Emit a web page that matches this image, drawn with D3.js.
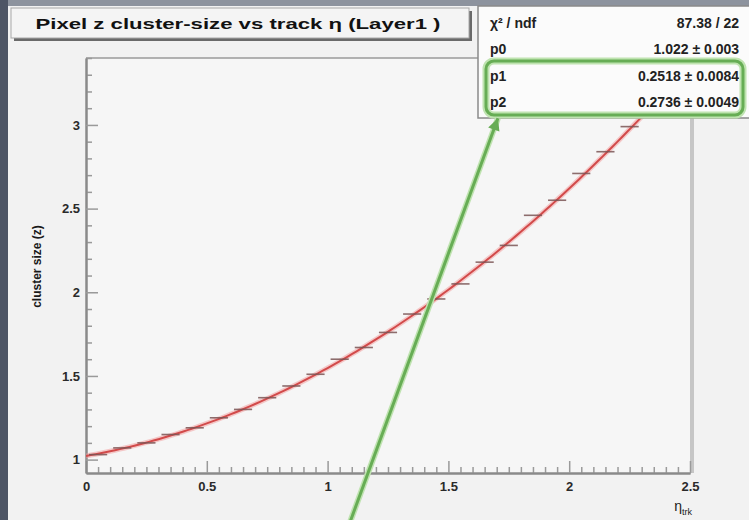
<!DOCTYPE html>
<html>
<head>
<meta charset="utf-8">
<script src="https://cdn.jsdelivr.net/npm/d3@7"></script>
<style>
  body { margin: 0; background: #f2f2f2; }
  svg { display: block; font-family: "Liberation Sans", Arial, sans-serif; }
</style>
</head>
<body>
<svg id="chart" width="749" height="520"></svg>
<script>
// profile bins (track eta) and mean cluster size
const binCenters = [0.05, 0.15, 0.25, 0.35, 0.45, 0.55, 0.65, 0.75, 0.85, 0.95,
                    1.05, 1.15, 1.25, 1.35, 1.45, 1.55, 1.65, 1.75, 1.85, 1.95,
                    2.05, 2.15, 2.25, 2.35, 2.45];
const clusterSize = [1.03, 1.07, 1.10, 1.15, 1.19, 1.25, 1.30, 1.37, 1.44, 1.51,
                     1.60, 1.67, 1.76, 1.87, 1.96, 2.05, 2.18, 2.28, 2.46, 2.55,
                     2.71, 2.84, 2.99, 3.13, 3.28];
const binHalfWidth = 0.05;

// pol2 fit parameters from the stats box
const fitPars = [1.022, 0.2518, 0.2736];
const statsLabels = ["\u03C7\u00B2 / ndf", "p0", "p1", "p2"];
const statsValues = ["87.38 / 22", "1.022 \u00B1 0.003", "0.2518 \u00B1 0.0084", "0.2736 \u00B1 0.0049"];

const xTicks = [0, 0.5, 1, 1.5, 2, 2.5];
const yTicks = [1, 1.5, 2, 2.5, 3];

// green annotation arrow, in data coordinates
const arrowFrom = [1.093, 0.627];
const arrowTo = [1.705, 3.04];

const svg = d3.select("#chart");
const W = 749, H = 520;
const frame = { left: 86, right: 690, top: 58, bottom: 473 };

const x = d3.scaleLinear().domain([0, 2.5]).range([frame.left, frame.right]);
const y = d3.scaleLinear().domain([0.92, 3.40]).range([frame.bottom, frame.top]);

// canvas background + window edges
svg.append("rect").attr("width", W).attr("height", H).attr("fill", "#f2f2f2");
svg.append("rect").attr("x", 0).attr("y", 0).attr("width", W).attr("height", 6).attr("fill", "#8d939e");
svg.append("rect").attr("x", 0).attr("y", 0).attr("width", 8).attr("height", H).attr("fill", "#4e5565");

// frame fill
svg.append("rect")
    .attr("x", frame.left).attr("y", frame.top)
    .attr("width", frame.right - frame.left + 2).attr("height", frame.bottom - frame.top)
    .attr("fill", "#f6f6f6");

// frame top and right edges
svg.append("line")
    .attr("x1", frame.left).attr("x2", frame.right + 2)
    .attr("y1", frame.top).attr("y2", frame.top)
    .attr("stroke", "#9a9a9a").attr("stroke-width", 1.5);
svg.append("line")
    .attr("x1", frame.right + 2).attr("x2", frame.right + 2)
    .attr("y1", frame.top).attr("y2", frame.bottom)
    .attr("stroke", "#c6c6c6").attr("stroke-width", 4);

// axes: major + minor ticks pointing into the frame
const styleAxis = g => {
    g.select(".domain").attr("stroke", "#8a8a8a").attr("stroke-width", 2);
    g.selectAll(".tick line").attr("stroke", "#9a9a9a").attr("stroke-width", 1.5);
    g.selectAll("text").attr("fill", "#2a2a2a").attr("font-size", 13).attr("font-weight", "bold")
        .attr("font-family", "Liberation Sans, Arial, sans-serif");
};

const xMinor = d3.range(0, 2.5001, 0.05).filter(v => Math.abs(v * 2 - Math.round(v * 2)) > 1e-6);
const yMinor = d3.range(1, 3.4001, 0.1).filter(v => Math.abs(v * 2 - Math.round(v * 2)) > 1e-6);

svg.append("g")
    .attr("transform", `translate(0,${frame.bottom})`)
    .call(d3.axisBottom(x).tickValues(xMinor).tickSizeInner(-6).tickSizeOuter(0).tickFormat(""))
    .call(styleAxis);
svg.append("g")
    .attr("transform", `translate(0,${frame.bottom})`)
    .call(d3.axisBottom(x).tickValues(xTicks).tickSizeInner(-12).tickSizeOuter(0).tickPadding(9).tickFormat(d => String(d)))
    .call(styleAxis);

svg.append("g")
    .attr("transform", `translate(${frame.left},0)`)
    .call(d3.axisLeft(y).tickValues(yMinor).tickSizeInner(-6).tickSizeOuter(0).tickFormat(""))
    .call(styleAxis);
svg.append("g")
    .attr("transform", `translate(${frame.left},0)`)
    .call(d3.axisLeft(y).tickValues(yTicks).tickSizeInner(-12).tickSizeOuter(0).tickPadding(6).tickFormat(d => String(d)))
    .call(styleAxis);

// axis titles
svg.append("text")
    .attr("transform", `translate(41,${(frame.top + frame.bottom) / 2 + 1}) rotate(-90)`)
    .attr("text-anchor", "middle")
    .attr("font-size", 12).attr("font-weight", "bold").attr("fill", "#1a1a1a")
    .text("cluster size (z)");

const xTitle = svg.append("text")
    .attr("x", frame.right + 2).attr("y", 511)
    .attr("text-anchor", "end")
    .attr("font-size", 14).attr("fill", "#1a1a1a");
xTitle.append("tspan").text("\u03B7");
xTitle.append("tspan").attr("font-size", 9).attr("dy", 4).text("trk");

// plot contents clipped to the frame
svg.append("clipPath").attr("id", "frameClip")
    .append("rect")
    .attr("x", frame.left).attr("y", frame.top)
    .attr("width", frame.right - frame.left).attr("height", frame.bottom - frame.top);
const plot = svg.append("g").attr("clip-path", "url(#frameClip)");

// fit function evaluated from its parameters
const fitFn = v => fitPars[0] + fitPars[1] * v + fitPars[2] * v * v;
const fitX = d3.range(0, 2.5001, 0.02);
plot.append("path")
    .datum(fitX)
    .attr("fill", "none")
    .attr("stroke", "#f2a0a0").attr("stroke-width", 5).attr("stroke-opacity", 0.55)
    .attr("d", d3.line().x(d => x(d)).y(d => y(fitFn(d))));
plot.append("path")
    .datum(fitX)
    .attr("fill", "none")
    .attr("stroke", "#d24a4a").attr("stroke-width", 2)
    .attr("d", d3.line().x(d => x(d)).y(d => y(fitFn(d))));

// profile points: horizontal bin-width error bars
const points = binCenters.map((c, i) => ({ c, v: clusterSize[i] }));
plot.selectAll("line.pt")
    .data(points)
    .enter().append("line")
    .attr("class", "pt")
    .attr("x1", d => x(d.c - binHalfWidth) + 3)
    .attr("x2", d => x(d.c + binHalfWidth) - 3)
    .attr("y1", d => y(d.v)).attr("y2", d => y(d.v))
    .attr("stroke", "#7a5555").attr("stroke-width", 1.6).attr("stroke-opacity", 0.85);

// title box
svg.append("rect")
    .attr("x", 14).attr("y", 11).attr("width", 458).attr("height", 30)
    .attr("fill", "#6a6a6a");
svg.append("rect")
    .attr("x", 11).attr("y", 8).attr("width", 458).attr("height", 30)
    .attr("fill", "#f4f4f4").attr("stroke", "#a8a8a8").attr("stroke-width", 1);
svg.append("text")
    .attr("x", 238).attr("y", 29)
    .attr("text-anchor", "middle")
    .attr("font-size", 15).attr("font-weight", "bold").attr("fill", "#111")
    .attr("textLength", 405).attr("lengthAdjust", "spacingAndGlyphs")
    .text("Pixel z cluster-size vs track \u03B7 (Layer1 )");

// stats box
svg.append("rect")
    .attr("x", 478).attr("y", 6).attr("width", 272).attr("height", 112)
    .attr("fill", "#fbfbfb").attr("stroke", "#8a8a8a").attr("stroke-width", 1.5);
const rowY = d3.scalePoint().domain(d3.range(statsLabels.length)).range([28, 107]);
svg.append("g").selectAll("text")
    .data(statsLabels)
    .enter().append("text")
    .attr("x", 490).attr("y", (d, i) => rowY(i))
    .attr("font-size", 14).attr("font-weight", "bold").attr("fill", "#222")
    .text(d => d);
svg.append("g").selectAll("text")
    .data(statsValues)
    .enter().append("text")
    .attr("x", 739).attr("y", (d, i) => rowY(i))
    .attr("text-anchor", "end")
    .attr("font-size", 14).attr("font-weight", "bold").attr("fill", "#222")
    .text(d => d);

// green highlight around p1/p2 and the annotation arrow
const green = "#67ad55", greenHalo = "#bfe3b0";
svg.append("rect")
    .attr("x", 486).attr("y", 61).attr("width", 257).attr("height", 54).attr("rx", 8)
    .attr("fill", "none").attr("stroke", greenHalo).attr("stroke-width", 7);
svg.append("rect")
    .attr("x", 486).attr("y", 61).attr("width", 257).attr("height", 54).attr("rx", 8)
    .attr("fill", "none").attr("stroke", green).attr("stroke-width", 3);

const ax1 = x(arrowFrom[0]), ay1 = y(arrowFrom[1]);
const ax2 = x(arrowTo[0]), ay2 = y(arrowTo[1]);
svg.append("line")
    .attr("x1", ax1).attr("y1", ay1).attr("x2", ax2).attr("y2", ay2)
    .attr("stroke", greenHalo).attr("stroke-width", 6);
svg.append("line")
    .attr("x1", ax1).attr("y1", ay1).attr("x2", ax2).attr("y2", ay2)
    .attr("stroke", green).attr("stroke-width", 3);
const ang = Math.atan2(ay2 - ay1, ax2 - ax1);
const headLen = 12, headW = 6;
const hx = ax2 - headLen * Math.cos(ang), hy = ay2 - headLen * Math.sin(ang);
svg.append("path")
    .attr("d", `M${ax2},${ay2} L${hx + headW * Math.sin(ang)},${hy - headW * Math.cos(ang)} L${hx - headW * Math.sin(ang)},${hy + headW * Math.cos(ang)} Z`)
    .attr("fill", green);
</script>
</body>
</html>
